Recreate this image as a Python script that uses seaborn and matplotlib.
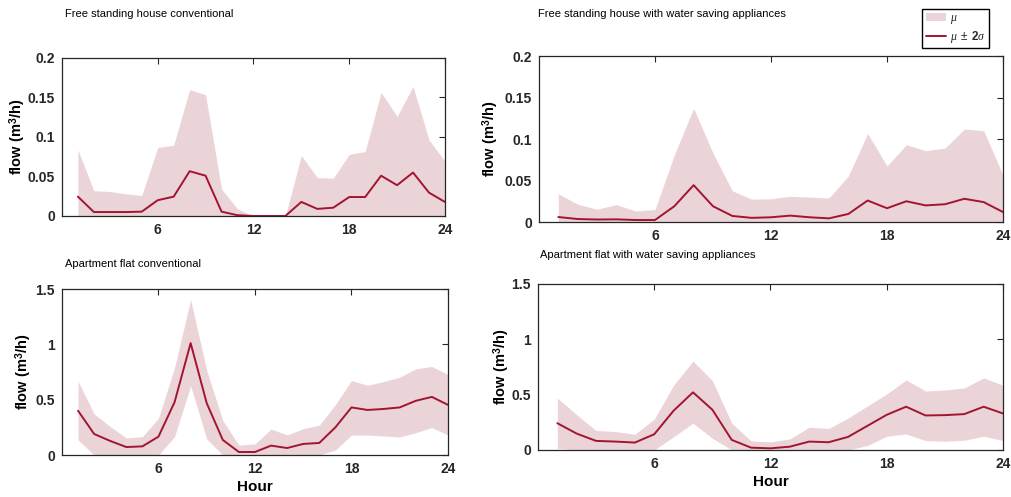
import numpy as np
import pandas as pd
import matplotlib
matplotlib.use("Agg")
import matplotlib.pyplot as plt
import seaborn as sns
from matplotlib.patches import Patch
from matplotlib.lines import Line2D
from matplotlib.ticker import FuncFormatter

hours = list(range(1, 25))

# Free standing house conventional
fs_conv_mean = [0.0245, 0.005, 0.005, 0.005, 0.0055, 0.020, 0.0245, 0.0567, 0.051, 0.0055, 0.001, 0.0,
                0.0, 0.0, 0.0178, 0.009, 0.0105, 0.024, 0.024, 0.051, 0.039, 0.055, 0.0296, 0.0178]
fs_conv_upper = [0.0837, 0.032, 0.031, 0.028, 0.026, 0.0867, 0.0896, 0.160, 0.1535, 0.034, 0.009, 0.0,
                 0.0, 0.0, 0.0765, 0.0486, 0.0478, 0.078, 0.0816, 0.1565, 0.126, 0.164, 0.0964, 0.0693]
fs_conv_lower = [0.0] * 24

# Free standing house with water saving appliances
fs_save_mean = [0.006, 0.0036, 0.003, 0.0032, 0.0024, 0.0024, 0.019, 0.0444, 0.019, 0.0073, 0.005, 0.0057,
                0.0077, 0.0057, 0.0044, 0.0097, 0.0259, 0.0166, 0.025, 0.020, 0.0214, 0.028, 0.024, 0.012]
fs_save_upper = [0.034, 0.0214, 0.0154, 0.021, 0.0133, 0.015, 0.081, 0.137, 0.083, 0.0376, 0.0275, 0.028,
                 0.031, 0.030, 0.029, 0.0554, 0.1067, 0.0675, 0.093, 0.086, 0.089, 0.112, 0.110, 0.0566]
fs_save_lower = [0.0] * 24

# Apartment flat conventional
ap_conv_mean = [0.40, 0.19, 0.127, 0.072, 0.078, 0.166, 0.477, 1.011, 0.468, 0.136, 0.027, 0.027,
                0.085, 0.063, 0.10, 0.109, 0.25, 0.43, 0.407, 0.416, 0.43, 0.49, 0.525, 0.453]
ap_conv_upper = [0.667, 0.371, 0.257, 0.154, 0.166, 0.332, 0.79, 1.404, 0.764, 0.311, 0.09, 0.10,
                 0.235, 0.181, 0.238, 0.269, 0.456, 0.673, 0.63, 0.664, 0.703, 0.779, 0.80, 0.727]
ap_conv_lower = [0.136, 0.0, 0.0, 0.0, 0.0, 0.0, 0.166, 0.625, 0.145, 0.0, 0.0, 0.0,
                 0.0, 0.0, 0.0, 0.0, 0.045, 0.18, 0.18, 0.172, 0.163, 0.202, 0.248, 0.18]

# Apartment flat with water saving appliances
ap_save_mean = [0.242, 0.148, 0.082, 0.076, 0.067, 0.142, 0.355, 0.521, 0.364, 0.091, 0.021, 0.015,
                0.03, 0.076, 0.07, 0.118, 0.218, 0.318, 0.391, 0.312, 0.315, 0.324, 0.391, 0.33]
ap_save_upper = [0.47, 0.318, 0.176, 0.167, 0.142, 0.279, 0.585, 0.803, 0.627, 0.242, 0.082, 0.073,
                 0.10, 0.206, 0.194, 0.288, 0.397, 0.506, 0.633, 0.533, 0.542, 0.56, 0.652, 0.585]
ap_save_lower = [0.015, 0.0, 0.0, 0.0, 0.0, 0.0, 0.12, 0.242, 0.106, 0.0, 0.0, 0.0,
                 0.0, 0.0, 0.0, 0.0, 0.04, 0.124, 0.145, 0.085, 0.079, 0.088, 0.124, 0.085]

titles = ["Free standing house conventional",
          "Free standing house with water saving appliances",
          "Apartment flat conventional",
          "Apartment flat with water saving appliances"]

LINE = "#A2142F"
FILL = "#EBD4D7"
DARK = "#262626"

sns.set_style("white")
plt.rcParams['font.family'] = ['Liberation Sans', 'DejaVu Sans']
plt.rcParams['mathtext.fontset'] = 'custom'
plt.rcParams['mathtext.rm'] = 'Liberation Sans'
plt.rcParams['mathtext.it'] = 'Liberation Serif:italic'
plt.rcParams['mathtext.bf'] = 'Liberation Sans:bold'
plt.rcParams['axes.edgecolor'] = DARK
plt.rcParams['axes.linewidth'] = 0.9

fig = plt.figure(figsize=(10.11, 4.97), dpi=100)

panels = [
    dict(pos=[0.0613, 0.5654, 0.3788, 0.3179], mean=fs_conv_mean, up=fs_conv_upper, lo=fs_conv_lower,
         ylim=0.2, yticks=[0, 0.05, 0.1, 0.15, 0.2], title_xy=(0.064, 0.972), xlabel=False, ylab_x=-0.089),
    dict(pos=[0.5331, 0.5533, 0.4590, 0.3340], mean=fs_save_mean, up=fs_save_upper, lo=fs_save_lower,
         ylim=0.2, yticks=[0, 0.05, 0.1, 0.15, 0.2], title_xy=(0.532, 0.972), xlabel=False, ylab_x=-0.081),
    dict(pos=[0.0613, 0.0845, 0.3818, 0.3340], mean=ap_conv_mean, up=ap_conv_upper, lo=ap_conv_lower,
         ylim=1.5, yticks=[0, 0.5, 1, 1.5], title_xy=(0.064, 0.468), xlabel=True, ylab_x=-0.073),
    dict(pos=[0.5321, 0.0946, 0.4600, 0.3340], mean=ap_save_mean, up=ap_save_upper, lo=ap_save_lower,
         ylim=1.5, yticks=[0, 0.5, 1, 1.5], title_xy=(0.534, 0.487), xlabel=True, ylab_x=-0.056),
]

for p, title in zip(panels, titles):
    ax = fig.add_axes(p["pos"])
    df = pd.DataFrame({"hour": hours, "mean": p["mean"], "upper": p["up"], "lower": p["lo"]})
    ax.fill_between(df["hour"], df["lower"], df["upper"], color=FILL, lw=0)
    sns.lineplot(data=df, x="hour", y="mean", color=LINE, lw=1.4, ax=ax)
    ax.set_xlim(0, 24)
    ax.set_ylim(0, p["ylim"])
    ax.set_xticks([6, 12, 18, 24])
    ax.set_yticks(p["yticks"])
    ax.yaxis.set_major_formatter(FuncFormatter(lambda v, _: "%g" % v))
    ax.tick_params(direction="in", length=4, width=0.8, top=True, right=True,
                   labelsize=10, colors=DARK, pad=5)
    for lab in ax.get_xticklabels() + ax.get_yticklabels():
        lab.set_fontweight("bold")
    ax.set_ylabel(r"flow (m$^{\mathbf{3}}$/h)", fontsize=10.5, fontweight="bold", color="black")
    ax.yaxis.set_label_coords(p["ylab_x"], 0.5)
    if p["xlabel"]:
        ax.set_xlabel("Hour", fontsize=11, fontweight="bold", color="black", labelpad=3)
    else:
        ax.set_xlabel("")
    for s in ax.spines.values():
        s.set_visible(True)
    fig.text(p["title_xy"][0], p["title_xy"][1], title, fontsize=8, color="black",
             ha="left", va="center")

handles = [Patch(facecolor=FILL, edgecolor="none"), Line2D([0], [0], color=LINE, lw=1.4)]
labels = [r"$\mu$", r"$\mu\ \pm\ \mathbf{2}\sigma$"]
fig.legend(handles, labels, loc="upper left", bbox_to_anchor=(0.912, 0.982), fontsize=8.5,
           frameon=True, fancybox=False, edgecolor="black", framealpha=1,
           handlelength=1.7, handletextpad=0.35, borderpad=0.3, labelspacing=0.2,
           borderaxespad=0)

fig.savefig("out.png", dpi=100)
